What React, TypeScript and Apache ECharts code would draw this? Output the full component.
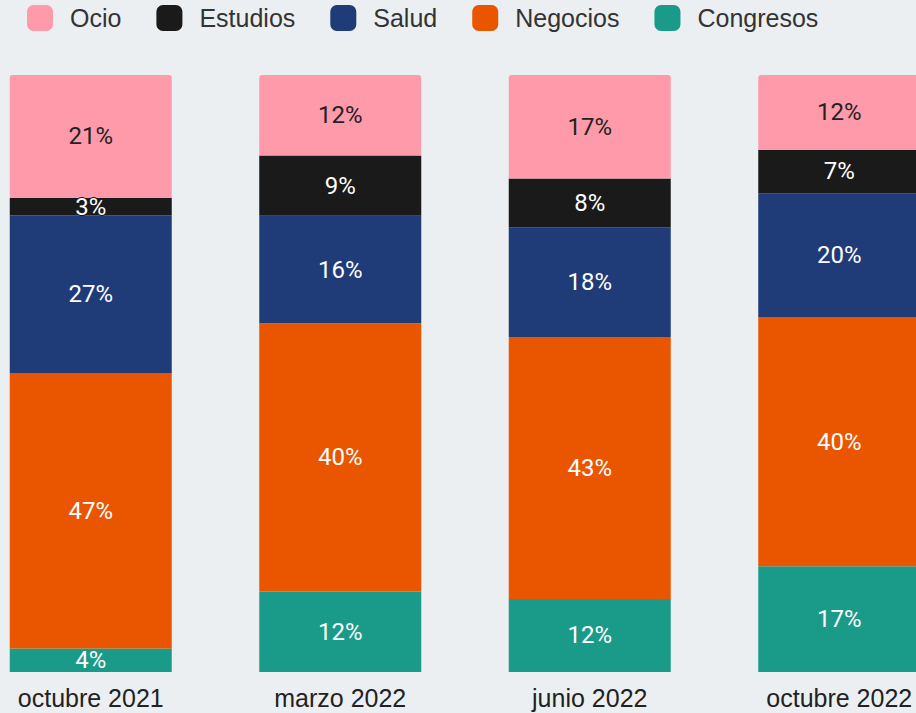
import React, { useEffect, useRef } from "react";
import * as echarts from "echarts";

const categories = ["octubre 2021", "marzo 2022", "junio 2022", "octubre 2022"];
const seriesNames = ["Ocio", "Estudios", "Salud", "Negocios", "Congresos"];
const ocio = [21, 12, 17, 12];
const estudios = [3, 9, 8, 7];
const salud = [27, 16, 18, 20];
const negocios = [47, 40, 43, 40];
const congresos = [4, 12, 12, 17];
const colors = ["#FF9AAB", "#1A1A1A", "#1F3C78", "#EA5500", "#1A9A88"];

export default function App() {
  const ref = useRef<HTMLDivElement>(null);
  useEffect(() => {
    if (!ref.current) return;
    const chart = echarts.init(ref.current, null, { renderer: "svg" });
    const raws = [ocio, estudios, salud, negocios, congresos];
    const totals = categories.map((_, i) => raws.reduce((s, r) => s + r[i], 0));
    // stacking order bottom -> top: Congresos, Negocios, Salud, Estudios, Ocio
    const order = [4, 3, 2, 1, 0];
    const series = order.map((k) => ({
      name: seriesNames[k],
      type: "bar",
      stack: "total",
      barWidth: 162,
      itemStyle: {
        color: colors[k],
        borderRadius: k === 0 ? [3, 3, 0, 0] : 0,
      },
      label: {
        show: true,
        position: "inside",
        fontFamily: "Roboto",
        fontSize: 24,
        color: k === 0 ? "#222222" : "#ffffff",
        textBorderColor: colors[k],
        textBorderWidth: k === 0 ? 0 : 2,
        formatter: (p: any) => raws[k][p.dataIndex] + "%",
      },
      data: raws[k].map((v, i) => v / totals[i]),
    }));
    chart.setOption({
      animation: false,
      backgroundColor: "#ECEFF1",
      color: colors,
      legend: {
        data: seriesNames,
        left: 61,
        top: 5,
        padding: 0,
        itemWidth: 26,
        itemHeight: 26,
        itemGap: 35,
        icon: "roundRect",
        textStyle: { fontFamily: "Liberation Sans", fontSize: 25, color: "#333333", padding: [0, 0, 0, 12] },
      },
      grid: { left: 0, right: 0, top: 75, bottom: 41 },
      xAxis: {
        type: "category",
        data: categories,
        axisLine: { show: false },
        axisTick: { show: false },
        axisLabel: { fontFamily: "Liberation Sans", fontSize: 25, color: "#222222", margin: 13 },
      },
      yAxis: { type: "value", min: 0, max: 1, show: false, splitLine: { show: false } },
      series,
    });
    return () => chart.dispose();
  }, []);
  return (
    <div style={{ position: "fixed", left: 0, top: 0, width: 916, height: 713, overflow: "hidden", background: "#ECEFF1" }}>
      <div ref={ref} style={{ position: "absolute", left: -34, top: 0, width: 998, height: 713 }} />
    </div>
  );
}
